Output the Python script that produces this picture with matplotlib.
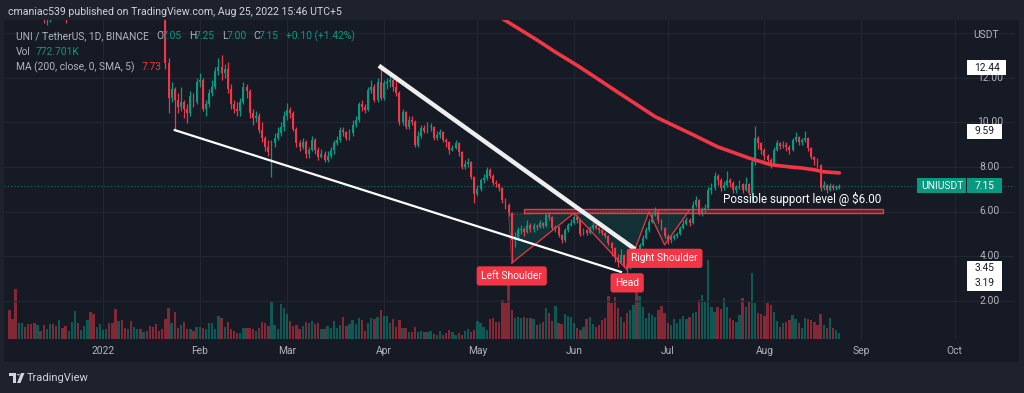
import numpy as np
import pandas as pd
import matplotlib
matplotlib.use('Agg')
import matplotlib.pyplot as plt
import matplotlib.dates as mdates
import matplotlib.patches as mpatches
from matplotlib.transforms import blended_transform_factory

plt.rcParams['font.family'] = ['Roboto', 'DejaVu Sans']

# ---- daily UNI/USDT candles (Dec 2 2021 - Aug 25 2022) ----
first_open = 22.3
close_dec = [21.6, 20.3, 19.0, 19.6, 20.0, 19.4, 19.0, 17.5, 16.8, 17.5, 17.2, 15.0, 15.6, 16.1, 15.8,
             15.2, 15.6, 15.5, 15.3, 16.2, 16.9, 17.9, 17.5, 17.8, 18.0, 18.6, 17.1, 16.5, 17.0, 17.4]
high_dec = [23.0, 22.0, 20.6, 20.2, 20.6, 20.8, 19.9, 19.3, 18.0, 17.9, 17.8, 17.4, 16.0, 16.5, 16.6,
            16.0, 15.9, 16.0, 15.7, 16.5, 17.3, 18.2, 18.1, 18.2, 18.4, 19.0, 18.8, 17.3, 17.3, 17.8]
low_dec = [21.2, 19.8, 15.6, 18.6, 18.6, 19.1, 18.7, 17.2, 16.3, 16.6, 16.9, 14.45, 14.35, 14.5, 15.5,
           14.8, 15.0, 15.1, 14.45, 15.1, 16.0, 16.8, 17.2, 17.3, 17.6, 17.8, 17.0, 16.2, 16.3, 16.8]

close_jan = [17.6, 17.9, 17.3, 17.0, 15.7, 15.9, 15.2, 15.0, 15.6, 15.2, 15.9, 16.8, 15.9, 16.2, 16.1,
             15.9, 15.2, 15.0, 14.9, 14.8, 12.65, 11.1, 11.5, 11.0, 10.7, 10.9, 10.6, 10.4, 11.2, 10.9, 11.8]
high_jan = [17.8, 18.1, 18.0, 17.6, 17.2, 16.2, 16.0, 15.5, 15.8, 15.7, 16.1, 17.1, 17.0, 16.4, 16.5,
            16.3, 16.0, 15.4, 15.3, 15.6, 14.9, 12.9, 11.8, 11.6, 11.3, 11.6, 11.0, 10.8, 11.4, 11.3, 12.0]
low_jan = [17.1, 17.4, 17.0, 16.7, 15.2, 15.3, 14.9, 14.7, 14.9, 14.7, 15.1, 15.8, 15.7, 15.6, 15.9,
           15.7, 15.0, 14.7, 14.7, 14.65, 12.4, 10.4, 10.9, 9.65, 10.4, 10.5, 10.2, 9.95, 10.3, 10.7, 10.8]

close_feb = [11.9, 10.6, 10.8, 11.3, 11.6, 12.3, 12.5, 12.2, 12.4, 11.5, 10.8, 10.6, 10.5, 10.9,
             11.6, 11.4, 10.4, 10.2, 10.3, 9.65, 9.3, 8.9, 8.65, 9.05, 9.3, 9.5, 9.8, 10.3]
high_feb = [12.2, 12.0, 11.0, 11.5, 11.9, 12.5, 12.9, 13.0, 12.6, 12.7, 11.7, 11.0, 10.9, 11.1,
            11.8, 11.7, 11.5, 10.6, 10.5, 10.4, 10.0, 9.4, 9.2, 9.2, 9.5, 9.8, 10.0, 10.5]
low_feb = [11.6, 10.5, 10.3, 10.7, 11.2, 11.5, 12.1, 11.9, 12.0, 11.3, 10.6, 10.4, 10.3, 10.3,
           10.8, 11.1, 10.2, 9.9, 10.0, 9.5, 9.1, 8.7, 8.5, 7.55, 8.9, 9.2, 9.4, 9.6]

close_mar = [10.55, 10.4, 9.7, 9.05, 8.9, 9.1, 8.6, 8.75, 9.2, 8.75, 8.45, 8.6, 8.3, 8.5, 8.75, 9.05,
             9.2, 9.65, 9.55, 9.3, 9.5, 9.9, 10.1, 10.8, 10.7, 10.55, 11.45, 11.6, 11.0, 11.8, 11.1]
high_mar = [10.85, 10.7, 10.5, 9.8, 9.2, 9.3, 9.2, 8.9, 9.4, 9.3, 8.9, 8.8, 8.7, 8.7, 8.9, 9.2,
            9.4, 9.8, 9.8, 9.6, 9.7, 10.1, 10.3, 10.9, 11.0, 10.8, 11.6, 11.9, 11.7, 12.0, 12.44]
low_mar = [10.1, 10.2, 9.6, 8.9, 8.7, 8.8, 8.4, 8.4, 8.7, 8.6, 8.3, 8.4, 8.2, 8.2, 8.4, 8.6,
           9.0, 9.1, 9.4, 9.2, 9.2, 9.4, 9.8, 10.0, 10.5, 10.4, 10.5, 11.3, 10.9, 10.9, 11.0]

close_apr = [11.75, 11.8, 11.9, 11.6, 11.3, 10.0, 10.45, 9.8, 10.1, 10.0, 9.0, 9.4, 9.75, 9.6, 9.8,
             9.8, 9.3, 9.45, 9.55, 9.2, 9.1, 8.75, 8.85, 9.05, 8.65, 8.0, 8.15, 8.2, 7.55, 6.8]
high_apr = [11.9, 12.0, 12.1, 12.0, 12.1, 11.4, 10.6, 10.5, 10.3, 10.3, 10.1, 9.6, 9.9, 9.9, 10.0,
            9.95, 9.85, 9.6, 9.7, 9.6, 9.3, 9.15, 9.0, 9.2, 9.1, 8.7, 8.3, 8.4, 8.25, 7.6]
low_apr = [11.0, 11.5, 11.6, 11.4, 11.2, 9.9, 9.9, 9.7, 9.7, 9.9, 8.9, 8.9, 9.3, 9.5, 9.5,
           9.6, 9.2, 9.2, 9.3, 9.1, 8.9, 8.6, 8.7, 8.8, 8.5, 7.9, 7.9, 8.0, 7.45, 6.4]

close_may = [7.0, 7.4, 7.5, 7.85, 7.6, 7.3, 7.25, 7.05, 6.5, 6.3, 5.95, 4.7, 4.85, 5.15, 5.2, 5.1,
             5.4, 5.2, 5.35, 5.3, 5.5, 5.35, 5.85, 5.75, 5.25, 5.3, 4.95, 4.7, 5.15, 5.4, 5.5]
high_may = [7.2, 7.5, 7.7, 8.0, 7.95, 7.7, 7.4, 7.3, 7.1, 6.6, 6.4, 6.0, 5.1, 5.3, 5.4, 5.3,
            5.6, 5.5, 5.5, 5.45, 5.6, 5.55, 5.95, 6.0, 5.8, 5.4, 5.35, 5.0, 5.25, 5.5, 5.65]
low_may = [6.7, 6.9, 7.3, 7.4, 7.5, 7.2, 7.1, 6.9, 6.4, 6.1, 5.8, 3.7, 4.4, 4.7, 5.0, 4.9,
           5.05, 5.1, 5.1, 5.15, 5.25, 5.25, 5.3, 5.6, 5.15, 5.1, 4.85, 4.6, 4.65, 5.1, 5.35]

close_jun = [5.75, 5.6, 5.0, 5.15, 5.05, 5.25, 5.4, 5.25, 5.15, 5.05, 4.9, 4.6, 4.35, 3.9, 3.75,
             4.05, 3.6, 3.45, 4.05, 4.2, 4.1, 4.5, 4.8, 5.15, 5.55, 5.85, 6.0, 5.6, 5.25, 4.9]
high_jun = [5.95, 5.85, 5.65, 5.25, 5.2, 5.35, 5.55, 5.45, 5.3, 5.2, 5.1, 4.95, 4.65, 4.4, 4.1,
            4.3, 4.1, 3.75, 4.15, 4.4, 4.35, 4.6, 4.95, 5.3, 5.65, 5.95, 6.2, 6.05, 5.65, 5.3]
low_jun = [5.45, 5.5, 4.9, 4.95, 4.95, 5.0, 5.15, 5.2, 5.05, 4.95, 4.8, 4.5, 4.0, 3.75, 3.5,
           3.7, 3.5, 3.19, 3.4, 3.95, 3.95, 4.05, 4.45, 4.75, 5.1, 5.5, 5.8, 5.5, 5.15, 4.8]

close_jul = [4.7, 4.8, 4.9, 5.0, 5.25, 5.45, 5.6, 5.5, 6.3, 6.5, 5.95, 6.05, 6.15, 6.95, 7.05, 7.6,
             7.4, 7.05, 7.2, 7.4, 7.3, 6.95, 7.1, 7.25, 6.95, 7.25, 6.85, 8.2, 9.3, 9.05, 8.75]
high_jul = [5.0, 4.95, 5.0, 5.1, 5.35, 5.6, 5.75, 5.7, 6.45, 6.7, 6.55, 6.2, 6.35, 7.1, 7.3, 7.75,
            7.7, 7.5, 7.35, 7.8, 7.5, 7.35, 7.2, 7.4, 7.3, 7.55, 7.3, 8.3, 9.85, 9.4, 9.1]
low_jul = [4.55, 4.6, 4.7, 4.8, 4.95, 5.2, 5.4, 5.35, 5.45, 6.2, 5.85, 5.8, 5.95, 6.1, 6.8, 6.95,
           7.2, 6.9, 6.95, 7.1, 7.1, 6.85, 6.85, 7.0, 6.85, 6.9, 6.75, 6.6, 8.1, 8.8, 8.6]

close_aug = [8.5, 8.3, 8.15, 8.75, 9.05, 8.95, 9.0, 8.9, 8.75, 9.2, 9.35, 9.1, 9.2, 9.3, 8.85,
             8.45, 8.3, 8.1, 7.05, 7.2, 6.95, 7.15, 7.05, 7.05, 7.15]
high_aug = [8.85, 8.6, 8.4, 8.9, 9.2, 9.1, 9.15, 9.1, 9.0, 9.3, 9.55, 9.4, 9.3, 9.59, 9.35,
            8.9, 8.5, 8.4, 8.15, 7.35, 7.25, 7.3, 7.25, 7.2, 7.25]
low_aug = [8.3, 8.1, 7.95, 8.1, 8.7, 8.8, 8.85, 8.7, 8.6, 8.7, 9.1, 9.0, 9.0, 9.1, 8.7,
           8.35, 8.1, 7.95, 6.9, 6.95, 6.85, 6.9, 6.95, 6.95, 7.0]

# relative daily volume
volume = [29, 20, 50, 16, 16, 12, 15, 15, 16, 14, 8, 14, 10, 15, 15, 13, 19, 11, 13, 8,
          17, 28, 16, 9, 13, 19, 27, 25, 12, 15, 9, 10, 16, 16, 30, 18, 19, 11, 10, 18,
          12, 10, 10, 7, 8, 13, 12, 15, 8, 10, 20, 31, 16, 27, 11, 14, 17, 10, 10, 8,
          12, 12, 11, 10, 16, 16, 10, 23, 21, 12, 17, 10, 8, 6, 6, 11, 11, 11, 10, 8,
          11, 17, 16, 13, 38, 14, 10, 35, 31, 25, 18, 13, 14, 10, 13, 17, 16, 18, 15, 16,
          10, 10, 13, 11, 18, 11, 14, 22, 13, 15, 19, 15, 21, 19, 8, 16, 21, 20, 22, 29,
          23, 23, 16, 20, 12, 19, 11, 11, 7, 7, 12, 7, 8, 7, 7, 8,
          5, 4, 8, 4, 6, 9, 7, 4, 6, 4, 8, 10, 7, 9, 18, 16, 12, 9, 20, 21, 17, 17,
          39, 36, 54, 29, 21, 22, 21, 22, 21, 21, 20, 14, 15, 17, 31, 26, 18, 33, 16, 15,
          25, 23, 22, 16, 11, 9, 12, 20, 22, 15, 12, 14, 19, 21, 43, 36, 42, 31, 22, 17,
          26, 29, 34, 49, 43, 32, 21, 26, 24, 22, 29, 33, 26, 16, 14, 20, 16, 20, 23, 20,
          22, 26, 27, 39, 44, 37, 79, 32, 27, 32, 30, 41, 32, 21, 19, 17, 24, 41, 32, 38,
          66, 36, 26, 25, 23, 36, 34, 27, 18, 12, 16, 17, 19, 24, 20, 16, 11, 21, 20, 19,
          17, 14, 25, 14, 11, 21, 11, 9, 6]
last_volume_text = '772.701K'

# MA(200) line
ma_dates = ['2022-05-09', '2022-05-20', '2022-05-26', '2022-06-02', '2022-06-08', '2022-06-15',
            '2022-06-21', '2022-06-27', '2022-07-03', '2022-07-09', '2022-07-17', '2022-07-24',
            '2022-07-27', '2022-08-03', '2022-08-09', '2022-08-13', '2022-08-17', '2022-08-20',
            '2022-08-25']
ma_vals = [14.65, 13.7, 13.15, 12.55, 12.0, 11.35, 10.8, 10.25, 9.85, 9.45, 8.9, 8.55, 8.4,
           8.1, 8.0, 7.95, 7.87, 7.78, 7.73]

# drawings
wedge_low_dates = ['2022-01-24', '2022-06-16']
wedge_low_vals = [9.65, 3.29]
wedge_high_dates = ['2022-03-31', '2022-06-20']
wedge_high_vals = [12.48, 4.36]
support_dates = ['2022-05-16', '2022-09-08']
support_vals = [5.92, 6.10]
hs_dates = ['2022-05-11', '2022-05-12', '2022-06-01', '2022-06-18', '2022-06-25', '2022-06-30', '2022-07-08']
hs_vals = [5.88, 3.69, 5.93, 3.38, 5.98, 4.5, 6.07]
hs_labels = ['Left Shoulder', 'Head', 'Right Shoulder']
hs_label_dates = ['2022-05-12', '2022-06-18', '2022-06-30']
hs_label_vals = [3.11, 2.8, 3.9]
support_text = 'Possible support level @ $6.00'
support_text_date, support_text_val = '2022-08-13', 6.55

month_labels = ['2022', 'Feb', 'Mar', 'Apr', 'May', 'Jun', 'Jul', 'Aug', 'Sep', 'Oct']
price_ticks = [2, 4, 6, 8, 10, 12]

close = close_dec + close_jan + close_feb + close_mar + close_apr + close_may + close_jun + close_jul + close_aug
high = high_dec + high_jan + high_feb + high_mar + high_apr + high_may + high_jun + high_jul + high_aug
low = low_dec + low_jan + low_feb + low_mar + low_apr + low_may + low_jun + low_jul + low_aug
opens = [first_open] + close[:-1]
close, high, low, opens = map(np.array, (close, high, low, opens))
dates = pd.date_range('2021-12-02', periods=len(close), freq='D')
x = mdates.date2num(dates)
up = close >= opens

UP, DOWN = '#089981', '#f23645'
GRAY = '#b2b5be'
W, H = 1024, 393

fig = plt.figure(figsize=(W / 100, H / 100), dpi=100)
fig.patch.set_facecolor('#1e222d')
fig.add_artist(mpatches.Rectangle((4 / W, 1 - 362 / H), 1015 / W, 342 / H, transform=fig.transFigure,
                                  facecolor='#161a25', edgecolor='none', zorder=0))

# pixel geometry of the pane
px_day, x0_px = 3.12, 9.4
ax_l, ax_r, ax_t, ax_b = 4, 1015, 20, 339
y0_px, px_unit = 345.3, 22.3
rect = [ax_l / W, 1 - ax_b / H, (ax_r - ax_l) / W, (ax_b - ax_t) / H]

axv = fig.add_axes(rect)
ax = fig.add_axes(rect, sharex=axv)
for a in (axv, ax):
    a.patch.set_alpha(0)
    a.set_axis_off()
ax.set_xlim(x[0] + (ax_l - x0_px) / px_day, x[0] + (ax_r - x0_px) / px_day)
ax.set_ylim((y0_px - ax_b) / px_unit, (y0_px - ax_t) / px_unit)
axv.set_ylim(0, ax_b - ax_t)

# grid
month_x = mdates.date2num(pd.date_range('2022-01-01', periods=len(month_labels), freq='MS'))
for mx in month_x:
    axv.axvline(mx, color='#222633', lw=0.8, zorder=0)
for p in price_ticks + [14]:
    ax.axhline(p, color='#222633', lw=0.8, zorder=0)

# volume
vcol = np.where(up, UP, DOWN)
axv.bar(x, volume, width=0.75, color=vcol, alpha=0.5, linewidth=0)

# candles
ccol = np.where(up, UP, DOWN)
ax.vlines(x, low, high, colors=ccol, lw=0.9, zorder=3)
body_lo = np.minimum(opens, close)
body_h = np.maximum(np.abs(close - opens), 0.04)
ax.bar(x, body_h, bottom=body_lo, width=0.62, color=ccol, linewidth=0, zorder=3)

# last price line
ax.axhline(close[-1], color=UP, lw=0.8, ls=(0, (1, 2)), alpha=0.7, zorder=2)

# MA 200
ax.plot(mdates.date2num(pd.to_datetime(ma_dates)), ma_vals, color=DOWN, lw=2.6, zorder=4,
        solid_capstyle='round')

# wedge lines
ax.plot(mdates.date2num(pd.to_datetime(wedge_low_dates)), wedge_low_vals, color='white', lw=1.6, zorder=5)
ax.plot(mdates.date2num(pd.to_datetime(wedge_high_dates)), wedge_high_vals, color='#eeeeee', lw=3.2, zorder=5)

# support zone
sx = mdates.date2num(pd.to_datetime(support_dates))
ax.add_patch(mpatches.Rectangle((sx[0], support_vals[0]), sx[1] - sx[0], support_vals[1] - support_vals[0],
                                facecolor=(0.95, 0.21, 0.27, 0.3), edgecolor=DOWN, lw=1.0, zorder=4))
ax.text(mdates.date2num(pd.Timestamp(support_text_date)), support_text_val, support_text, color='white',
        fontsize=8.4, ha='center', va='center', zorder=7)

# head & shoulders
hx = mdates.date2num(pd.to_datetime(hs_dates))
ax.add_patch(mpatches.Polygon(np.column_stack([hx, hs_vals]), closed=True, facecolor=UP, alpha=0.18,
                              edgecolor='none', zorder=2))
ax.plot(hx[1:], hs_vals[1:], color=DOWN, lw=0.9, zorder=4)
ax.plot([hx[0], hx[1]], [hs_vals[0], hs_vals[1]], color=DOWN, lw=0.6, alpha=0.6, zorder=4)
ax.plot([hx[0], hx[-1]], [hs_vals[0], hs_vals[-1]], color=DOWN, lw=0.8, ls=(0, (1, 1.5)), alpha=0.8, zorder=4)
for lab, d, v in zip(hs_labels, hs_label_dates, hs_label_vals):
    ax.text(mdates.date2num(pd.Timestamp(d)), v, lab, color='white', fontsize=7.4, ha='center', va='center',
            zorder=8, bbox=dict(boxstyle='round,pad=0.45,rounding_size=0.25', fc=DOWN, ec='none'))

# ---- overlay texts ----
def fx(px):
    return px / W


def fy(py):
    return 1 - py / H


fig.text(fx(8), fy(12), 'cmaniac539 published on TradingView.com, Aug 25, 2022 15:46 UTC+5',
         color='#d1d4dc', fontsize=7.6, va='center')

chg = close[-1] - close[-2]
legend_row = [('UNI / TetherUS, 1D, BINANCE', 16, GRAY), ('O', 156, GRAY), (f'{opens[-1]:.2f}', 162, UP),
              ('H', 189, GRAY), (f'{high[-1]:.2f}', 195, UP), ('L', 222, GRAY), (f'{low[-1]:.2f}', 227, UP),
              ('C', 253, GRAY), (f'{close[-1]:.2f}', 259, UP),
              (f'{chg:+.2f} ({chg / close[-2] * 100:+.2f}%)', 286, UP)]
for s, px, c in legend_row:
    fig.text(fx(px), fy(36), s, color=c, fontsize=7.4, va='center', zorder=10)
fig.text(fx(16), fy(52), 'Vol', color=GRAY, fontsize=7.4, va='center', zorder=10)
fig.text(fx(36), fy(52), last_volume_text, color=UP, fontsize=7.4, va='center', zorder=10)
fig.text(fx(16), fy(67), 'MA (200, close, 0, SMA, 5)', color=GRAY, fontsize=7.4, va='center', zorder=10)
fig.text(fx(142), fy(67), f'{ma_vals[-1]:.2f}', color=DOWN, fontsize=7.4, va='center', zorder=10)

# price axis
trans = blended_transform_factory(fig.transFigure, ax.transData)
fig.text(fx(986), fy(35), 'USDT', color=GRAY, fontsize=7.4, ha='center', va='center')
for p in price_ticks:
    fig.text(fx(990), p, f'{p:.2f}', color=GRAY, fontsize=7.4, ha='center', va='center', transform=trans)

box_h = 15 / px_unit


def price_box(val, y, x1, x2, fc, tc, label=None, lx1=None):
    fig.add_artist(mpatches.Rectangle((fx(x1), y - box_h / 2), fx(x2 - x1), box_h, transform=trans,
                                      facecolor=fc, edgecolor='none', zorder=11))
    fig.text(fx((x1 + x2) / 2), y, f'{val:.2f}', color=tc, fontsize=7.4, ha='center', va='center',
             transform=trans, zorder=12)
    if label:
        fig.add_artist(mpatches.Rectangle((fx(lx1), y - box_h / 2), fx(x1 - lx1 - 1), box_h, transform=trans,
                                          facecolor=fc, edgecolor='none', zorder=11))
        fig.text(fx((lx1 + x1) / 2), y, label, color=tc, fontsize=7.4, ha='center', va='center',
                 transform=trans, zorder=12)


spring_hi = high[x >= mdates.date2num(pd.Timestamp('2022-03-01'))].max()
aug_hi = high[x >= mdates.date2num(pd.Timestamp('2022-08-01'))].max()
i_lo = int(np.argmin(np.where(x >= mdates.date2num(pd.Timestamp('2022-06-01')), low, np.inf)))
price_box(spring_hi, spring_hi, 967, 1006, 'white', '#131722')
price_box(aug_hi, aug_hi, 967, 1002, 'white', '#131722')
price_box(close[-1], close[-1], 967, 1002, UP, 'white', label='UNIUSDT', lx1=917)
price_box(close[i_lo], close[i_lo], 967, 1002, 'white', '#131722')
price_box(low[i_lo], close[i_lo] - box_h, 967, 1002, 'white', '#131722')

# time axis
for mx, lab in zip(month_x, month_labels):
    ax.text(mx, -12 / (ax_b - ax_t), lab, color=GRAY, fontsize=7.4, ha='center', va='center',
            transform=blended_transform_factory(ax.transData, ax.transAxes))

# footer logo
fig.add_artist(mpatches.Polygon([[fx(9), fy(373)], [fx(16), fy(373)], [fx(16), fy(383)], [fx(13), fy(383)],
                                 [fx(13), fy(376)], [fx(9), fy(376)]], closed=True, transform=fig.transFigure,
                                facecolor='#d1d4dc', edgecolor='none'))
fig.add_artist(mpatches.Circle((fx(18.3), fy(374.7)), 1.6 / W, transform=fig.transFigure,
                               facecolor='#d1d4dc', edgecolor='none'))
fig.add_artist(mpatches.Polygon([[fx(21), fy(373)], [fx(24.5), fy(373)], [fx(20.5), fy(383)], [fx(17), fy(383)]],
                                closed=True, transform=fig.transFigure, facecolor='#d1d4dc', edgecolor='none'))
fig.text(fx(27), fy(378), 'TradingView', color='#d1d4dc', fontsize=8, va='center')

fig.savefig('out.png', dpi=100, facecolor=fig.get_facecolor())
